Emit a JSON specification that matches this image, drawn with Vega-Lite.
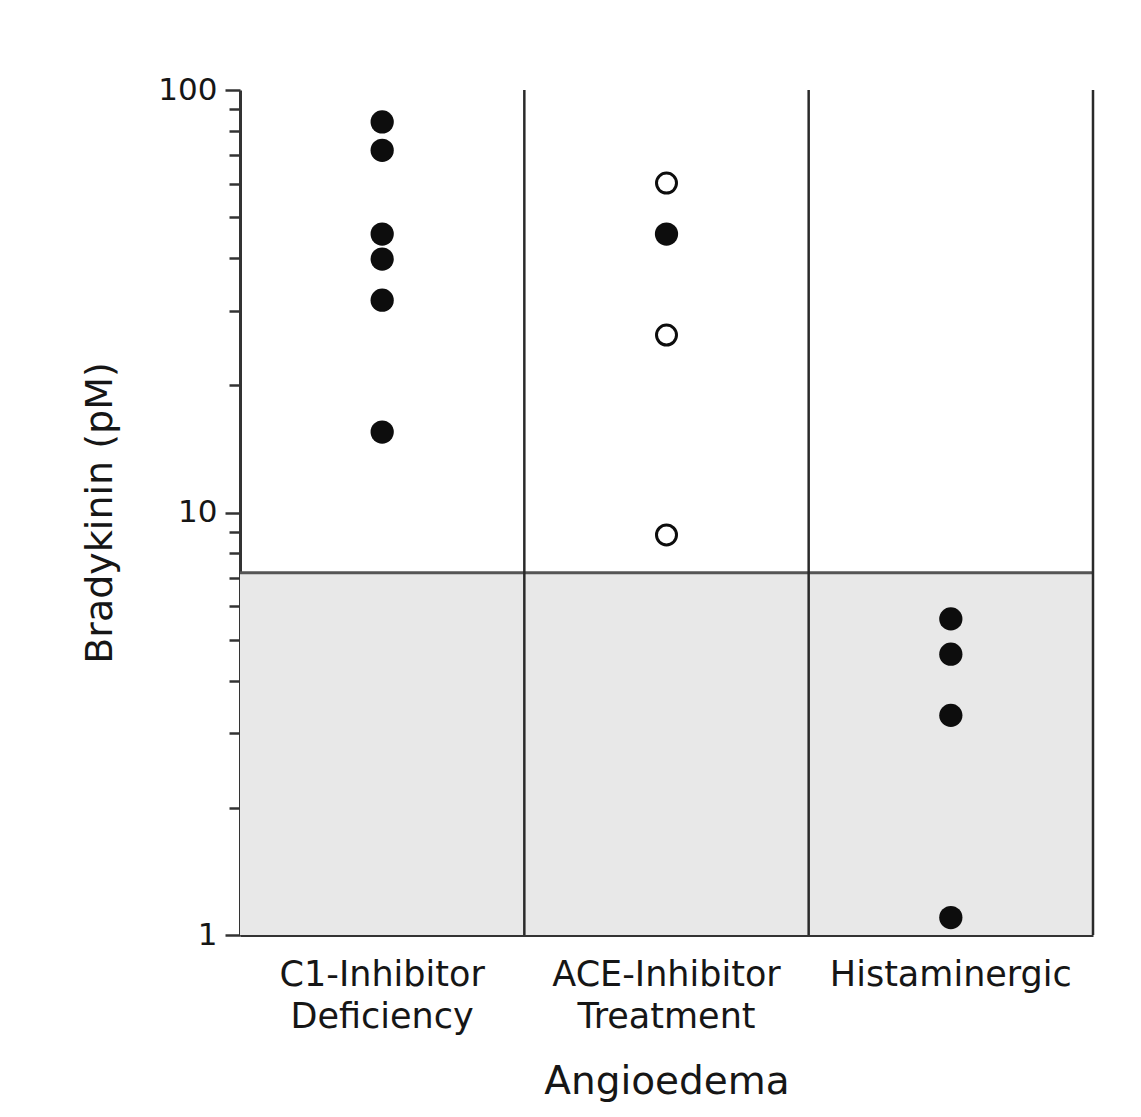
{
  "$schema": "https://vega.github.io/schema/vega-lite/v6.json",
  "width": 853,
  "height": 845,
  "autosize": {"type": "none"},
  "padding": {"left": 240, "top": 90, "right": 48, "bottom": 182},
  "background": "white",
  "config": {
    "view": {"stroke": null},
    "font": "DejaVu Sans",
    "axis": {"labelColor": "#161616", "titleColor": "#161616", "labelFont": "DejaVu Sans", "titleFont": "DejaVu Sans", "titleFontWeight": "normal", "labelLimit": 500}
  },
  "datasets": {
    "groups": [
      {"group": "C1-Inhibitor Deficiency"},
      {"group": "ACE-Inhibitor Treatment"},
      {"group": "Histaminergic"}
    ],
    "points": [
      {"group": "C1-Inhibitor Deficiency", "bk": 84, "kind": "filled"},
      {"group": "C1-Inhibitor Deficiency", "bk": 72, "kind": "filled"},
      {"group": "C1-Inhibitor Deficiency", "bk": 45.6, "kind": "filled"},
      {"group": "C1-Inhibitor Deficiency", "bk": 39.8, "kind": "filled"},
      {"group": "C1-Inhibitor Deficiency", "bk": 31.8, "kind": "filled"},
      {"group": "C1-Inhibitor Deficiency", "bk": 15.5, "kind": "filled"},
      {"group": "ACE-Inhibitor Treatment", "bk": 60.2, "kind": "open"},
      {"group": "ACE-Inhibitor Treatment", "bk": 45.6, "kind": "filled"},
      {"group": "ACE-Inhibitor Treatment", "bk": 26.3, "kind": "open"},
      {"group": "ACE-Inhibitor Treatment", "bk": 8.85, "kind": "open"},
      {"group": "Histaminergic", "bk": 5.6, "kind": "filled"},
      {"group": "Histaminergic", "bk": 4.62, "kind": "filled"},
      {"group": "Histaminergic", "bk": 3.31, "kind": "filled"},
      {"group": "Histaminergic", "bk": 1.1, "kind": "filled"}
    ],
    "normal": [{"low": 1, "high": 7.2}]
  },
  "layer": [
    {
      "data": {"name": "normal"},
      "mark": {"type": "rect", "fill": "#e8e8e8", "stroke": null},
      "encoding": {
        "y": {"field": "low", "type": "quantitative", "scale": {"type": "log", "domain": [1, 100]},
              "axis": {"title": "Bradykinin (pM)", "titleFontSize": 38, "titlePadding": 38,
                       "values": [1, 2, 3, 4, 5, 6, 7, 8, 9, 10, 20, 30, 40, 50, 60, 70, 80, 90, 100],
                       "labelExpr": "indexof([1, 10, 100], datum.value) >= 0 ? datum.label : ''",
                       "labelFontSize": 31, "labelPadding": 8, "labelBound": false, "labelOverlap": false,
                       "tickSize": {"condition": {"test": "indexof([1, 10, 100], datum.value) >= 0", "value": 15}, "value": 11},
                       "tickColor": "#333333", "tickWidth": 2.5, "domainColor": "#333333", "domainWidth": 3, "grid": false, "format": "d"}},
        "y2": {"field": "high"}
      }
    },
    {
      "data": {"name": "normal"},
      "mark": {"type": "rule", "stroke": "#555555", "strokeWidth": 3},
      "encoding": {
        "y": {"field": "high", "type": "quantitative"}
      }
    },
    {
      "data": {"name": "groups"},
      "mark": {"type": "rule", "stroke": "#2a2a2a", "strokeWidth": 2.5},
      "encoding": {
        "x": {"field": "group", "type": "nominal", "bandPosition": 1, "sort": null,
              "scale": {"type": "band", "paddingInner": 0, "paddingOuter": 0, "domain": ["C1-Inhibitor Deficiency", "ACE-Inhibitor Treatment", "Histaminergic"]},
              "axis": {"title": "Angioedema", "titleFontSize": 39, "titlePadding": 28, "labelFontSize": 35, "labelAngle": 0,
                       "labelExpr": "split(datum.label, ' ')", "labelLineHeight": 42, "labelPadding": 22,
                       "ticks": false, "domain": true, "domainColor": "#333333", "domainWidth": 3, "grid": false}}
      }
    },
    {
      "data": {"name": "points"},
      "transform": [{"filter": "datum.kind == 'filled'"}],
      "mark": {"type": "point", "shape": "circle", "filled": true, "fill": "#0d0d0d", "strokeWidth": 0, "size": 540, "opacity": 1},
      "encoding": {
        "x": {"field": "group", "type": "nominal", "sort": null},
        "y": {"field": "bk", "type": "quantitative"}
      }
    },
    {
      "data": {"name": "points"},
      "transform": [{"filter": "datum.kind == 'open'"}],
      "mark": {"type": "point", "shape": "circle", "filled": false, "fill": "white", "stroke": "#0d0d0d", "strokeWidth": 3, "size": 400, "opacity": 1},
      "encoding": {
        "x": {"field": "group", "type": "nominal", "sort": null},
        "y": {"field": "bk", "type": "quantitative"}
      }
    }
  ]
}
